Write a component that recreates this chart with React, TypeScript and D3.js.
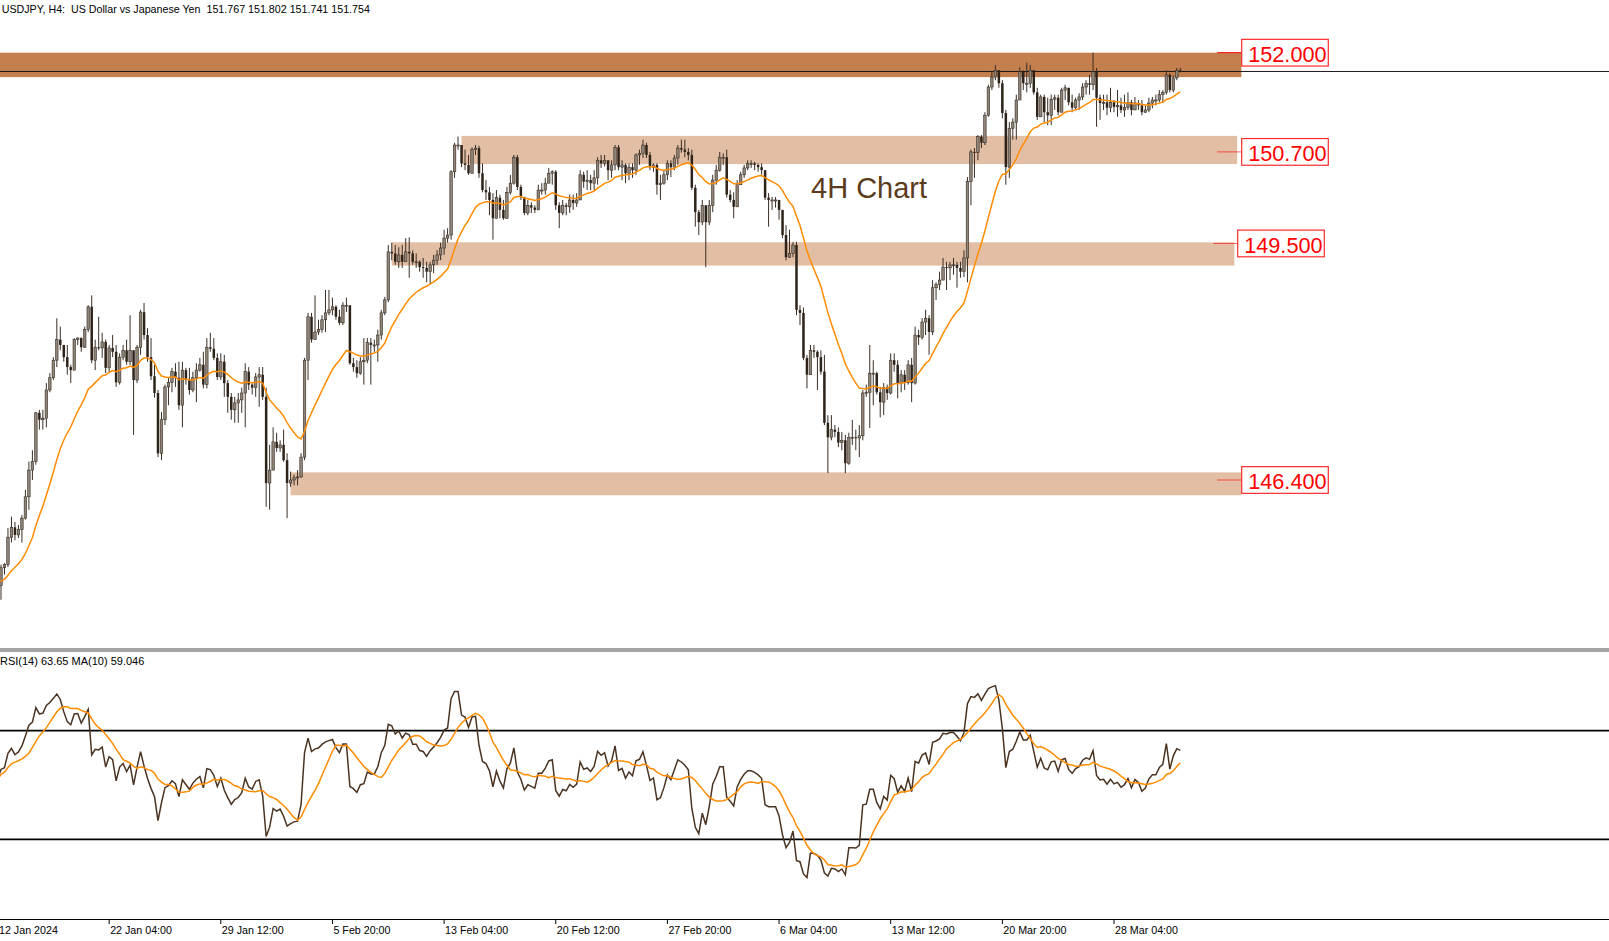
import React, { useEffect } from "react";
import * as d3 from "d3";

const symbolTitle = "USDJPY, H4:  US Dollar vs Japanese Yen  151.767 151.802 151.741 151.754";
const rsiTitle = "RSI(14) 63.65 MA(10) 59.046";
const chartNote = "4H Chart";

const firstOpen = 144.89;
const closes = [
  145.02,145.25,145.29,145.65,145.78,145.68,145.75,145.90,146.18,146.53,
  146.64,147.28,147.19,147.21,147.58,147.74,147.97,148.24,148.17,148.01,
  147.88,147.84,148.24,148.26,148.14,148.37,148.67,147.97,148.14,148.13,
  148.21,147.87,148.13,148.08,147.68,148.01,148.10,147.95,148.10,147.71,
  148.14,148.60,148.30,148.01,147.76,147.54,146.75,147.19,147.62,147.68,
  147.82,147.74,147.38,147.84,147.71,147.58,147.74,147.84,147.91,147.65,
  148.14,148.12,148.00,147.75,147.95,147.67,147.49,147.32,147.41,147.45,
  147.54,147.82,147.65,147.61,147.75,147.78,147.49,146.36,146.53,146.90,
  146.82,146.86,146.66,146.36,146.40,146.43,146.44,146.70,147.97,148.54,
  148.24,148.34,148.37,148.50,148.59,148.63,148.67,148.54,148.46,148.69,
  148.69,147.93,147.88,147.80,147.95,147.97,148.20,148.17,148.17,148.30,
  148.59,148.76,149.39,149.37,149.26,149.35,149.26,149.39,149.37,149.26,
  149.26,149.19,149.18,149.13,149.22,149.28,149.35,149.44,149.57,149.61,
  150.44,150.79,150.79,150.55,150.53,150.42,150.73,150.75,150.42,150.20,
  150.17,150.07,149.83,150.10,149.94,149.83,150.17,150.29,150.63,150.24,
  150.11,149.90,150.00,149.97,149.94,150.20,150.20,150.29,150.42,150.44,
  150.00,149.90,150.00,149.98,150.07,150.03,150.07,150.40,150.31,150.33,
  150.29,150.36,150.59,150.55,150.59,150.46,150.53,150.76,150.50,150.53,
  150.42,150.50,150.46,150.66,150.68,150.79,150.66,150.50,150.53,150.27,
  150.29,150.40,150.55,150.50,150.62,150.75,150.73,150.70,150.66,150.23,
  149.91,149.78,150.00,149.78,150.00,150.33,150.46,150.63,150.63,150.14,
  150.07,149.98,150.27,150.40,150.49,150.55,150.55,150.53,150.50,150.46,
  150.10,150.07,150.07,150.07,149.94,149.61,149.32,149.37,149.48,148.63,
  148.59,148.00,147.78,148.10,148.08,148.01,147.82,147.15,146.96,147.06,
  147.03,146.89,146.92,146.62,146.96,146.96,146.95,146.98,147.54,147.55,
  147.80,147.80,147.55,147.42,147.61,147.54,147.97,147.91,147.67,147.78,
  147.68,147.91,147.67,148.30,148.27,148.47,148.52,148.34,148.92,148.96,
  149.02,149.19,149.18,149.22,149.22,149.18,149.13,149.31,150.31,150.70,
  150.69,150.90,150.82,151.18,151.55,151.68,151.77,151.60,151.21,150.50,
  151.01,151.09,151.38,151.75,151.60,151.60,151.77,151.48,151.16,151.42,
  151.22,151.18,151.39,151.41,151.22,151.51,151.54,151.35,151.28,151.38,
  151.42,151.55,151.60,151.58,151.75,151.41,151.34,151.35,151.28,151.35,
  151.29,151.31,151.25,151.28,151.35,151.25,151.34,151.31,151.22,151.25,
  151.34,151.38,151.38,151.45,151.48,151.71,151.51,151.67,151.767,151.754,
];
const highs = [
  145.16,145.29,145.31,145.77,145.92,145.85,145.81,145.94,146.27,146.64,
  146.79,147.29,147.32,147.32,147.67,147.80,148.01,148.52,148.41,148.17,
  148.17,147.91,148.26,148.27,148.27,148.41,148.69,148.82,148.24,148.54,
  148.33,148.24,148.17,148.30,148.17,148.06,148.17,148.24,148.56,147.93,
  148.17,148.63,148.72,148.39,148.26,147.91,147.58,147.29,147.65,147.74,
  147.87,147.93,147.95,147.95,147.87,147.87,147.82,147.93,148.00,148.08,
  148.26,148.33,148.26,148.06,148.06,148.04,147.71,147.54,147.49,147.54,
  147.61,147.93,147.88,147.67,147.80,147.88,147.88,147.61,146.86,147.09,
  147.02,146.92,147.06,146.75,146.51,146.47,146.53,146.75,148.00,148.59,
  148.59,148.82,148.50,148.56,148.89,148.89,148.79,148.69,148.63,148.73,
  148.79,148.67,148.00,147.97,148.01,148.26,148.26,148.26,148.24,148.37,
  148.63,148.80,149.48,149.51,149.48,149.45,149.48,149.57,149.58,149.41,
  149.37,149.28,149.31,149.26,149.26,149.35,149.41,149.51,149.68,149.70,
  150.46,150.82,150.90,150.79,150.73,150.66,150.76,150.79,150.78,150.55,
  150.33,150.24,150.16,150.20,150.14,150.07,150.24,150.40,150.66,150.66,
  150.27,150.11,150.07,150.04,150.00,150.27,150.29,150.36,150.49,150.46,
  150.46,150.04,150.07,150.03,150.14,150.14,150.16,150.46,150.44,150.46,
  150.40,150.46,150.63,150.66,150.66,150.57,150.59,150.79,150.79,150.59,
  150.55,150.55,150.55,150.68,150.73,150.86,150.82,150.70,150.55,150.55,
  150.40,150.46,150.59,150.59,150.66,150.79,150.86,150.86,150.75,150.73,
  150.27,149.94,150.07,150.00,150.07,150.40,150.53,150.70,150.68,150.73,
  150.20,150.17,150.33,150.44,150.53,150.59,150.59,150.57,150.55,150.55,
  150.46,150.16,150.11,150.11,150.07,149.94,149.74,149.68,149.52,149.52,
  148.69,148.66,148.04,148.17,148.17,148.10,148.10,148.04,147.25,147.25,
  147.12,147.09,147.03,146.99,147.02,147.19,147.06,147.12,147.58,147.65,
  148.17,147.97,147.82,147.62,147.67,147.65,148.06,148.06,147.97,147.84,
  147.84,147.97,148.00,148.41,148.37,148.52,148.63,148.56,149.02,148.99,
  149.13,149.31,149.26,149.26,149.31,149.26,149.26,149.41,150.37,150.73,
  150.75,150.92,150.92,151.22,151.58,151.75,151.84,151.75,151.64,151.25,
  151.09,151.14,151.45,151.81,151.77,151.87,151.84,151.67,151.54,151.45,
  151.45,151.41,151.45,151.45,151.45,151.54,151.58,151.51,151.45,151.41,
  151.47,151.60,151.64,151.71,152.00,151.80,151.45,151.45,151.45,151.54,
  151.38,151.51,151.41,151.45,151.48,151.38,151.42,151.38,151.38,151.31,
  151.41,151.42,151.45,151.51,151.51,151.77,151.73,151.70,151.80,151.802,
];
const lows = [
  144.83,144.83,145.16,145.26,145.58,145.61,145.64,145.58,145.88,146.01,
  146.40,146.60,147.06,147.06,147.09,147.55,147.71,147.88,148.10,147.95,
  147.78,147.67,147.84,148.17,148.08,148.13,148.34,147.93,147.84,148.10,
  148.00,147.80,147.81,148.01,147.62,147.65,147.97,147.91,147.91,146.99,
  147.67,148.04,148.24,147.95,147.71,147.48,146.70,146.66,147.12,147.38,
  147.55,147.62,147.32,147.09,147.65,147.52,147.55,147.42,147.82,147.60,
  147.60,148.08,147.97,147.71,147.71,147.49,147.28,147.19,147.15,147.15,
  147.28,147.09,147.58,147.52,147.49,147.36,147.45,146.05,146.01,146.53,
  146.77,146.77,146.64,145.90,146.31,146.33,146.33,146.43,146.66,147.71,
  148.20,148.27,148.30,148.33,148.34,148.56,148.56,148.50,148.43,148.43,
  148.60,147.91,147.82,147.74,147.78,147.65,147.93,147.65,148.08,147.95,
  148.24,148.56,148.73,149.28,149.22,149.18,149.18,149.26,149.05,149.22,
  149.18,149.13,149.05,148.99,148.97,149.11,149.22,149.28,149.35,149.51,
  149.55,150.36,150.73,150.50,150.46,150.40,150.46,150.66,150.36,150.17,
  150.07,149.87,149.55,149.83,149.83,149.81,150.04,150.14,150.27,150.20,
  150.07,149.87,149.87,149.90,149.90,149.94,150.14,150.14,150.29,150.27,
  149.94,149.70,149.87,149.87,149.90,149.94,149.98,150.14,150.23,150.20,
  150.20,150.20,150.27,150.49,150.51,150.33,150.36,150.46,150.46,150.33,
  150.29,150.33,150.36,150.40,150.53,150.62,150.62,150.46,150.44,150.14,
  150.07,150.27,150.33,150.37,150.46,150.53,150.69,150.63,150.59,150.20,
  149.72,149.61,149.74,149.19,149.74,149.91,150.27,150.44,150.53,150.10,
  150.04,149.83,150.11,150.31,150.36,150.46,150.49,150.46,150.44,150.40,
  150.07,149.72,149.94,149.97,149.81,149.57,149.28,149.31,149.32,148.56,
  148.43,147.97,147.60,147.78,148.00,147.58,147.78,147.12,146.49,146.92,
  146.96,146.83,146.79,146.49,146.60,146.86,146.79,146.70,146.92,147.49,
  147.08,147.38,147.52,147.22,147.25,147.45,147.52,147.82,147.47,147.55,
  147.58,147.65,147.42,147.65,148.17,148.24,148.30,148.04,148.30,148.76,
  148.89,149.02,148.89,149.02,149.09,148.92,149.05,149.06,148.99,150.00,
  150.36,150.59,150.75,150.79,151.16,151.51,151.64,151.54,151.14,150.27,
  150.36,150.86,150.86,151.45,151.51,151.48,151.54,151.45,151.12,151.16,
  151.09,151.05,151.05,151.25,151.18,151.22,151.38,151.31,151.22,151.25,
  151.25,151.38,151.45,151.45,151.51,151.03,151.12,151.25,151.18,151.22,
  151.22,151.16,151.21,151.16,151.25,151.18,151.27,151.25,151.18,151.21,
  151.22,151.27,151.31,151.35,151.34,151.45,151.48,151.48,151.64,151.741,
];

// Moving average on price (EMA 20), value read at the first visible bar
const maPeriod = 20;
const maStart = 145.06;
// RSI(14) with MA(10); RSI value read at the first visible bar
const rsiPeriod = 14;
const rsiStart = 52;
const rsiMaPeriod = 10;
const rsiLevels = [70, 30];

const timeLabels = [
  "12 Jan 2024", "22 Jan 04:00", "29 Jan 12:00", "5 Feb 20:00", "13 Feb 04:00",
  "20 Feb 12:00", "27 Feb 20:00", "6 Mar 04:00", "13 Mar 12:00", "20 Mar 20:00", "28 Mar 04:00",
];
const timeLabelBars = [0, 32, 64, 96, 128, 160, 192, 224, 256, 288, 320];

const zoneTops = [152.0, 150.91, 149.515, 146.5];
const zoneBottoms = [151.68, 150.54, 149.21, 146.2];
const zoneStartBars = [-2, 133, 113, 84];
const zoneEndBars = [356.5, 355.3, 354.5, 356.5];

const levelPrices = [152.0, 150.7, 149.5, 146.4];
const levelTexts = ["152.000", "150.700", "149.500", "146.400"];
const bidPrice = 151.754;

const FONT = "'Liberation Sans', Arial, sans-serif";

export default function App() {
  useEffect(() => {
    document.body.style.margin = "0";
  }, []);
  const W = 1609;
  const H = 941;

  const x = d3.scaleLinear().domain([0, 320]).range([-2.5, 1114]);
  const y = d3.scaleLinear().domain([152, 146.4]).range([52.7, 480]);
  const yr = d3.scaleLinear().domain([70, 30]).range([730.6, 839.4]);

  const candles = closes.map((c, i) => {
    const o = i === 0 ? firstOpen : closes[i - 1];
    return { i, o, c, h: Math.max(highs[i], o, c), l: Math.min(lows[i], o, c) };
  });

  const k = 2 / (maPeriod + 1);
  const ema: number[] = [];
  closes.forEach((c, i) => ema.push(i === 0 ? maStart : ema[i - 1] + k * (c - ema[i - 1])));

  const diffs = closes.slice(1, rsiPeriod + 1).map((c, j) => Math.abs(c - closes[j]));
  const m = d3.mean(diffs) as number;
  let ag = (rsiStart / 100) * m;
  let al = (1 - rsiStart / 100) * m;
  const rsi: number[] = [rsiStart];
  for (let i = 1; i < closes.length; i++) {
    const d = closes[i] - closes[i - 1];
    ag = (ag * (rsiPeriod - 1) + Math.max(d, 0)) / rsiPeriod;
    al = (al * (rsiPeriod - 1) + Math.max(-d, 0)) / rsiPeriod;
    rsi.push(al === 0 ? 100 : 100 - 100 / (1 + ag / al));
  }
  const rsiMa = rsi.map((_, i) => d3.mean(rsi.slice(Math.max(0, i - rsiMaPeriod + 1), i + 1)) as number);

  const priceLine = d3.line<number>().x((_, i) => x(i)).y((v) => y(v));
  const rsiLine = d3.line<number>().x((_, i) => x(i)).y((v) => yr(v));

  const boxLefts = [1241.7, 1241.7, 1237.7, 1241.7];
  const boxW = 86.6;
  const boxH = 26.7;

  return (
    <svg
      width={W}
      height={H}
      viewBox={`0 0 ${W} ${H}`}
      style={{ display: "block", position: "absolute", left: 0, top: 0, background: "#ffffff" }}
    >
      <rect x={0} y={0} width={W} height={H} fill="#ffffff" />

      {/* zones */}
      {zoneTops.map((t, j) => (
        <rect
          key={"z" + j}
          x={x(zoneStartBars[j])}
          y={y(t)}
          width={x(zoneEndBars[j]) - x(zoneStartBars[j])}
          height={y(zoneBottoms[j]) - y(t)}
          fill={j === 0 ? "#c47f4f" : "#e2bea4"}
        />
      ))}

      {/* bid line */}
      <line x1={0} x2={W} y1={y(bidPrice)} y2={y(bidPrice)} stroke="#1a1a1a" strokeWidth={1} />

      {/* candles */}
      {candles.map((d) => {
        const cx = x(d.i);
        const up = d.c >= d.o;
        const top = y(Math.max(d.o, d.c));
        const bot = y(Math.min(d.o, d.c));
        const bh = Math.max(bot - top, 1);
        return (
          <g key={"c" + d.i}>
            <line x1={cx} x2={cx} y1={y(d.h)} y2={y(d.l)} stroke="#3a2e25" strokeWidth={1} />
            <rect
              x={cx - 1.25}
              y={top}
              width={2.5}
              height={bh}
              fill={up ? "#8e8478" : "#2e2319"}
              stroke={up ? "#3a2e25" : "none"}
              strokeWidth={0.6}
            />
          </g>
        );
      })}

      {/* price MA */}
      <path d={priceLine(ema) || ""} fill="none" stroke="#ff8c00" strokeWidth={1.5} />

      {/* 4H chart note */}
      <text x={811} y={198.3} fontFamily={FONT} fontSize={29} fill="#5b3b1c">
        {chartNote}
      </text>

      {/* level labels */}
      {levelPrices.map((p, j) => {
        const yy = y(p);
        const bx = boxLefts[j];
        return (
          <g key={"l" + j}>
            <line
              x1={bx - 24.5}
              x2={bx}
              y1={yy}
              y2={yy}
              stroke="#ff0000"
              strokeOpacity={j === 0 ? 1 : 0.6}
              strokeWidth={1}
            />
            <rect
              x={bx}
              y={yy - boxH / 2}
              width={boxW}
              height={boxH}
              fill="#ffffff"
              stroke="#ff2a2a"
              strokeWidth={1.2}
            />
            <text x={bx + 6.5} y={yy - boxH / 2 + 22.4} fontFamily={FONT} fontSize={21.7} fill="#ff0000">
              {levelTexts[j]}
            </text>
          </g>
        );
      })}

      {/* title */}
      <text x={1.7} y={12.5} fontFamily={FONT} fontSize={10.7} fill="#000" xmlSpace="preserve" style={{ whiteSpace: "pre" }}>
        {symbolTitle}
      </text>

      {/* pane separator */}
      <line x1={0} x2={W} y1={649} y2={649} stroke="#4a4a4a" strokeWidth={1.2} />
      <line x1={0} x2={W} y1={651} y2={651} stroke="#4a4a4a" strokeWidth={1.2} />

      {/* RSI pane */}
      <text x={0} y={664.7} fontFamily={FONT} fontSize={11} fill="#000">
        {rsiTitle}
      </text>
      {rsiLevels.map((lv) => (
        <line key={"lv" + lv} x1={0} x2={W} y1={yr(lv)} y2={yr(lv)} stroke="#000" strokeWidth={1.6} />
      ))}
      <path d={rsiLine(rsi) || ""} fill="none" stroke="#4b3322" strokeWidth={1.5} />
      <path d={rsiLine(rsiMa) || ""} fill="none" stroke="#ff8c00" strokeWidth={1.5} />

      {/* time axis */}
      <line x1={0} x2={W} y1={919.5} y2={919.5} stroke="#000" strokeWidth={1} />
      {timeLabels.map((t, j) => {
        const tx = x(timeLabelBars[j]);
        return (
          <g key={"t" + j}>
            {j > 0 && <line x1={tx} x2={tx} y1={919.5} y2={924} stroke="#000" strokeWidth={1} />}
            <text x={j === 0 ? -1 : tx + 1} y={934} fontFamily={FONT} fontSize={10.7} fill="#000">
              {t}
            </text>
          </g>
        );
      })}
    </svg>
  );
}
